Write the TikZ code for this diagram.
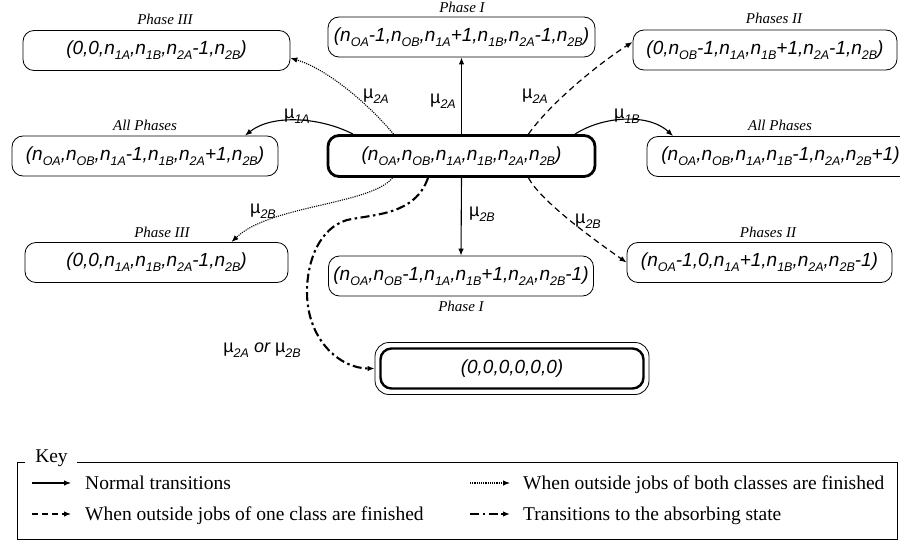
\documentclass[tikz,border=0pt]{standalone}
\usepackage{fontspec}
\setmainfont{Liberation Serif}
\newfontfamily\sansf{Liberation Sans}
\usetikzlibrary{arrows.meta}
\newcommand{\ssub}[1]{\raisebox{-0.26em}{\fontsize{12.5}{12.5}\selectfont #1}}
\newcommand{\nsub}[1]{n\ssub{#1}}
\newcommand{\mus}[1]{{\upshape\textmu}\ssub{\itshape #1}}
\newcommand{\statefont}{\sansf\itshape\fontsize{19}{21}\selectfont}
\newcommand{\phasefont}{\rmfamily\itshape\fontsize{15}{17}\selectfont}
\newcommand{\lblfont}{\sansf\itshape\fontsize{18}{20}\selectfont}
\newcommand{\keyfont}{\rmfamily\fontsize{19.5}{21}\selectfont}
\tikzset{
  statebox/.style={draw, rounded corners=11pt, minimum width=267pt, minimum height=40pt, inner sep=0pt, font=\statefont, line width=0.8pt},
  phaselbl/.style={font=\phasefont, inner sep=0pt},
  mulbl/.style={font=\lblfont, inner sep=0pt},
  keytxt/.style={font=\keyfont, inner sep=0pt, anchor=base west},
  tip/.style={-{Latex[length=7pt,width=5.5pt]}},
  arrnormal/.style={tip, line width=1.1pt},
  arrdot/.style={tip, line width=1.1pt, dash pattern=on 1.1pt off 1.1pt},
  arrdash/.style={tip, line width=1.2pt, dash pattern=on 6pt off 4pt},
  arrdashdot/.style={tip, line width=2.1pt, dash pattern=on 9pt off 3.5pt on 2.5pt off 3.5pt},
}
\begin{document}
\begin{tikzpicture}[x=1pt,y=-1pt]
\useasboundingbox (0,0) rectangle (900,543);

% states
\node[statebox] (tl) at (156.5,50.5) {(0,0,\nsub{1A},\nsub{1B},\nsub{2A}-1,\nsub{2B})};
\node[statebox] (tc) at (461.5,37) {(\nsub{OA}-1,\nsub{OB},\nsub{1A}+1,\nsub{1B},\nsub{2A}-1,\nsub{2B})};
\node[statebox, minimum width=264pt] (tr) at (765,50) {(0,\nsub{OB}-1,\nsub{1A},\nsub{1B}+1,\nsub{2A}-1,\nsub{2B})};
\node[statebox, minimum width=266pt] (ml) at (145,156) {(\nsub{OA},\nsub{OB},\nsub{1A}-1,\nsub{1B},\nsub{2A}+1,\nsub{2B})};
\node[statebox, line width=2.8pt, minimum height=41pt] (c) at (461.5,156) {(\nsub{OA},\nsub{OB},\nsub{1A},\nsub{1B},\nsub{2A},\nsub{2B})};
\node[statebox] (mr) at (780.5,156.5) {(\nsub{OA},\nsub{OB},\nsub{1A},\nsub{1B}-1,\nsub{2A},\nsub{2B}+1)};
\node[statebox, minimum width=263pt] (ll) at (156.5,262.5) {(0,0,\nsub{1A},\nsub{1B},\nsub{2A}-1,\nsub{2B})};
\node[statebox, minimum width=265pt] (lc) at (461,276) {(\nsub{OA},\nsub{OB}-1,\nsub{1A},\nsub{1B}+1,\nsub{2A},\nsub{2B}-1)};
\node[statebox, minimum width=265pt] (lr) at (759.5,262.5) {(\nsub{OA}-1,0,\nsub{1A}+1,\nsub{1B},\nsub{2A},\nsub{2B}-1)};
\node[draw, rounded corners=14pt, minimum width=274pt, minimum height=52pt, line width=0.8pt] (absout) at (512,368.5) {};
\node[statebox, line width=2.4pt, minimum height=40pt, minimum width=263pt] (abs) at (512,368.5) {(0,0,0,0,0,0)};

% phase labels
\node[phaselbl] (ptc) at (462,7.5) {Phase I};
\node[phaselbl] (ptl) at (165,19) {Phase III};
\node[phaselbl] (ptr) at (774,18) {Phases II};
\node[phaselbl] (pml) at (145,125) {All Phases};
\node[phaselbl] (pmr) at (780,125) {All Phases};
\node[phaselbl] (pll) at (162,232) {Phase III};
\node[phaselbl] (plc) at (461,306) {Phase I};
\node[phaselbl] (plr) at (768,232) {Phases II};

% transitions
\draw[arrnormal] (c.north) -- (tc.south);
\draw[arrnormal] (c.south) -- (lc.north);
\draw[arrnormal] ([xshift=-108.5pt]c.north) .. controls (320,117) and (272,114) .. ([xshift=100pt]ml.north);
\draw[arrnormal] ([xshift=113.5pt]c.north) .. controls (605,115) and (650,114) .. ([xshift=-107.5pt]mr.north);
\draw[arrdot] ([xshift=-68pt]c.north) .. controls (372,108) and (330,70) .. ([yshift=-7.5pt]tl.east);
\draw[arrdash] ([xshift=67pt]c.north) .. controls (548,106) and (595,66) .. ([yshift=8pt]tr.west);
\draw[arrdot] ([xshift=-69pt]c.south) .. controls (370,205) and (270,205) .. ([xshift=75pt]ll.north);
\draw[arrdash] ([xshift=67pt]c.south) .. controls (540,200) and (590,237) .. (lr.west);
\draw[arrdashdot] ([xshift=-33.5pt]c.south) .. controls (415,215) and (375,214) .. (347,220)
   .. controls (320,228) and (307,260) .. (307,292)
   .. controls (307,340) and (340,368.5) .. (absout.west);

% rate labels
\node[mulbl] (l1) at (443,101) {\mus{2A}};
\node[mulbl] (l2) at (482,214) {\mus{2B}};
\node[mulbl] (l3) at (297,116) {\mus{1A}};
\node[mulbl] (l4) at (627,116) {\mus{1B}};
\node[mulbl] (l5) at (376,96) {\mus{2A}};
\node[mulbl] (l6) at (535,96) {\mus{2A}};
\node[mulbl] (l7) at (263,211) {\mus{2B}};
\node[mulbl] (l8) at (588,221) {\mus{2B}};
\node[mulbl] (l9) at (262,350) {\mus{2A} or \mus{2B}};

% key
\node[font=\keyfont, inner sep=0pt, anchor=base] (keylbl) at (51.5,462) {Key};
\draw[line width=0.8pt] (25,462.5) -- (17,462.5) -- (17,539.5) -- (897,539.5) -- (897,462.5) -- (77,462.5);
\node[keytxt] (k1) at (85,489) {Normal transitions};
\node[keytxt] (k2) at (85,520) {When outside jobs of one class are finished};
\node[keytxt] (k3) at (523,489) {When outside jobs of both classes are finished};
\node[keytxt] (k4) at (523,520) {Transitions to the absorbing state};
\coordinate (k1s) at (32,483);
\coordinate (k1e) at (71,483);
\coordinate (k2s) at (32,514);
\coordinate (k2e) at (71,514);
\coordinate (k3s) at (470,483);
\coordinate (k3e) at (510,483);
\coordinate (k4s) at (470,514);
\coordinate (k4e) at (510,514);
\draw[arrnormal] (k1s) -- (k1e);
\draw[arrdash] (k2s) -- (k2e);
\draw[arrdot] (k3s) -- (k3e);
\draw[arrdashdot] (k4s) -- (k4e);
\end{tikzpicture}
\end{document}
